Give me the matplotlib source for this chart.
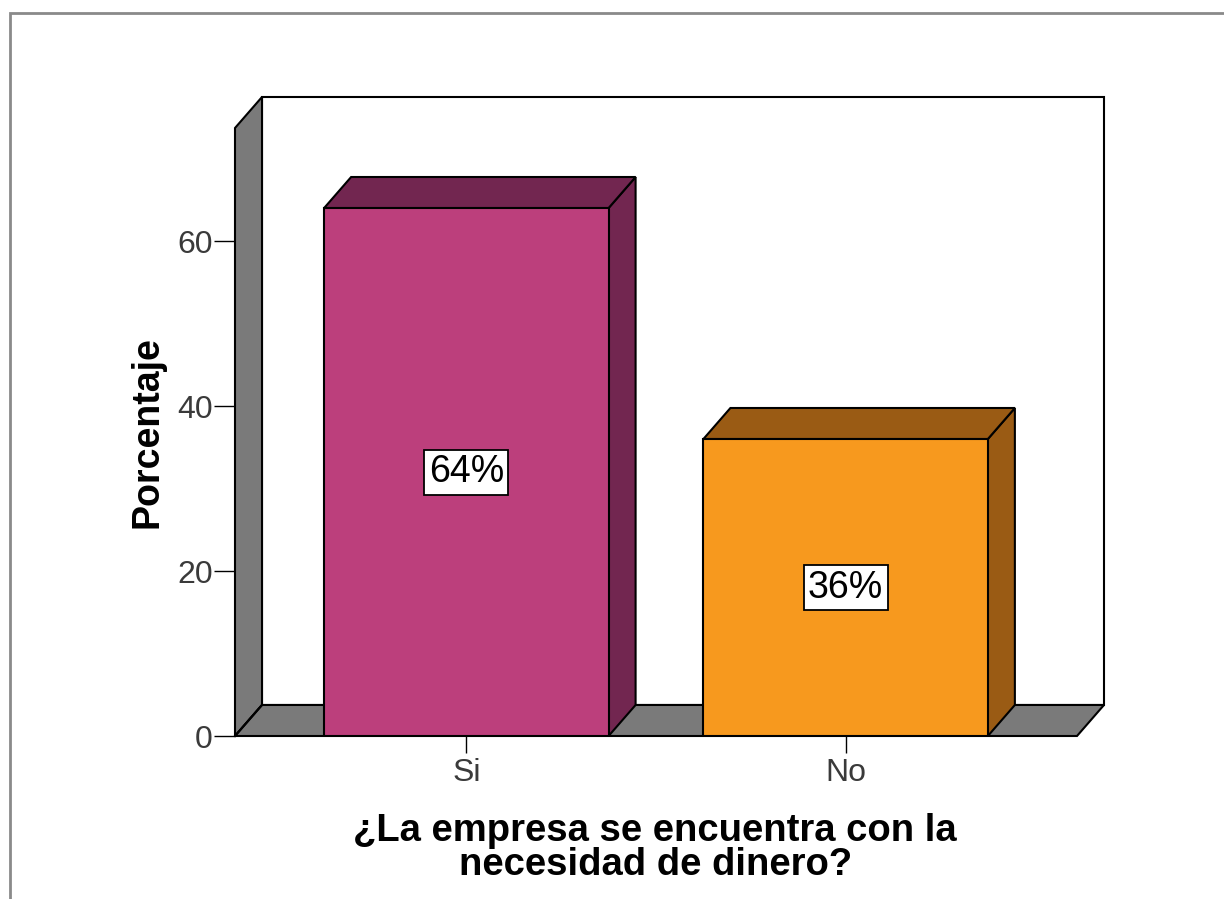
import matplotlib.pyplot as plt
from matplotlib.patches import Polygon, Rectangle

plt.rcParams['font.family'] = ['Liberation Sans', 'DejaVu Sans']

categories = ['Si', 'No']
percentages = [64, 36]
labels = ['64%', '36%']
front_colors = ['#bc3f7c', '#f7991e']
dark_colors = ['#722650', '#9a5b14']

wall_grey = '#7a7a7a'
x_pos = [1, 2]
bar_w = 0.75
xmin, xmax = 0.39, 2.61
ymax = 73.7
# depth offset of the pseudo-3D box (data units)
dx, dy = 0.0712, 3.76

fig = plt.figure(figsize=(12.24, 8.99), dpi=100)
fig.patch.set_facecolor('white')
ax = fig.add_axes([235 / 1224, 163 / 899, 842 / 1224, 608 / 899])
ax.set_xlim(xmin, xmax)
ax.set_ylim(0, ymax)
ax.patch.set_visible(False)
for s in ax.spines.values():
    s.set_visible(False)

# back wall, left wall and floor
ax.add_patch(Rectangle((xmin + dx, dy), xmax - xmin, ymax, facecolor='white',
                       edgecolor='black', lw=1.5, zorder=1, clip_on=False))
ax.add_patch(Polygon([(xmin, 0), (xmin + dx, dy), (xmin + dx, ymax + dy), (xmin, ymax)],
                     closed=True, facecolor=wall_grey, edgecolor='black', lw=1.5,
                     zorder=2, clip_on=False))
ax.add_patch(Polygon([(xmin, 0), (xmax, 0), (xmax + dx, dy), (xmin + dx, dy)],
                     closed=True, facecolor=wall_grey, edgecolor='black', lw=1.5,
                     zorder=2, clip_on=False))
ax.plot([xmin, xmin + dx], [0, dy], color='black', lw=1.5, zorder=3, clip_on=False)

# bars: front face, right side, top
bars = ax.bar(x_pos, percentages, width=bar_w, color=front_colors,
              edgecolor='black', linewidth=1.5, zorder=5)
for b, dc in zip(bars, dark_colors):
    x0 = b.get_x()
    x1 = x0 + b.get_width()
    h = b.get_height()
    ax.add_patch(Polygon([(x1, 0), (x1 + dx, dy), (x1 + dx, h + dy), (x1, h)],
                         closed=True, facecolor=dc, edgecolor='black', lw=1.5,
                         zorder=4, clip_on=False))
    ax.add_patch(Polygon([(x0, h), (x1, h), (x1 + dx, h + dy), (x0 + dx, h + dy)],
                         closed=True, facecolor=dc, edgecolor='black', lw=1.5,
                         zorder=4, clip_on=False))

for xp, v, lab in zip(x_pos, percentages, labels):
    ax.text(xp, v / 2, lab, ha='center', va='center', fontsize=27, color='black',
            zorder=7, bbox=dict(boxstyle='square,pad=0.12', fc='white',
                                ec='black', lw=1.3))

ax.set_yticks([0, 20, 40, 60])
ax.set_xticks(x_pos)
ax.set_xticklabels(categories)
ax.tick_params(axis='y', length=15, width=1, color='black', labelsize=23,
               labelcolor='#3a3a3a', pad=1)
ax.tick_params(axis='x', length=12, width=1, color='black', labelsize=23,
               labelcolor='#3a3a3a', pad=4)

ax.set_ylabel('Porcentaje', fontsize=27, fontweight='bold')
ax.yaxis.set_label_coords(-0.083, 0.5)
ax.set_xlabel('¿La empresa se encuentra con la\nnecesidad de dinero?',
              fontsize=27.5, fontweight='bold', linespacing=0.95)
ax.xaxis.set_label_coords(0.499, -0.126)

# outer frame
fig.add_artist(Rectangle((10 / 1224, -0.1), 1.0, 0.1 + (899 - 13) / 899,
                         transform=fig.transFigure, fill=False,
                         edgecolor='#8a8a8a', lw=2))

fig.savefig('out.png', dpi=100, facecolor='white')
